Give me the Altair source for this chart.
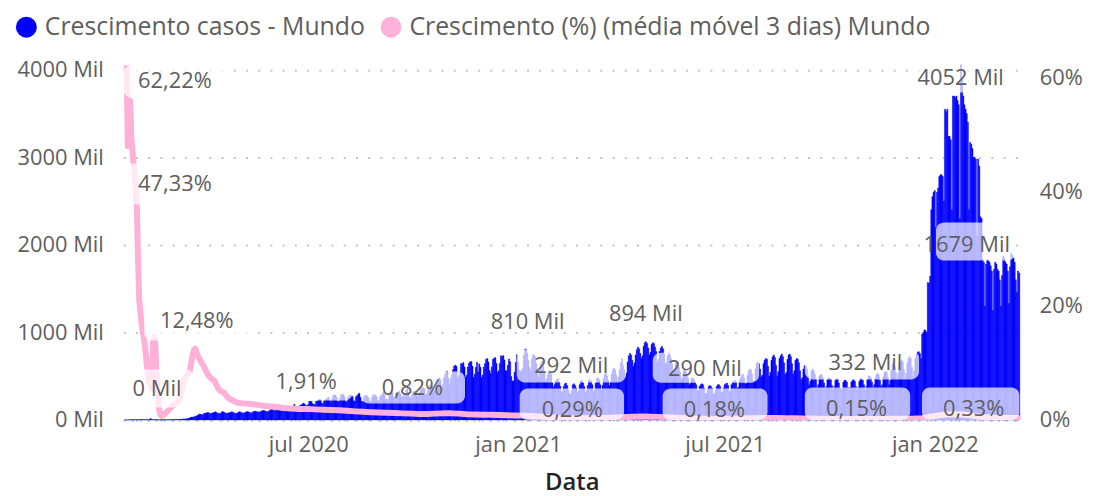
import altair as alt
import pandas as pd

FONTE = "Open Sans"
AZUL = "#0000ff"
ROSA = "#fdb0d8"
CINZA = "#605e5c"

SERIE_CASOS = "Crescimento casos - Mundo"
SERIE_PCT = "Crescimento (%) (média móvel 3 dias) Mundo"

# ---- Crescimento casos (Mil = milhares), valores diários a partir de 22/01/2020 ----
casos_2020_01 = [0.6, 0.1, 0.3, 0.5, 0.7, 0.8, 2.6, 0.6, 2.1, 1.7]
casos_2020_02 = [2.1, 2.6, 2.8, 3.2, 3.7, 3.2, 3.4, 2.6, 3.0, 2.5, 2.0, 0.4, 15.1, 6.4, 2.1,
                 2.1, 2.1, 1.9, 1.9, 0.5, 0.9, 1.1, 1.0, 0.6, 0.9, 0.8, 1.1, 1.6, 2.0]
casos_2020_03 = [1.8, 1.9, 2.3, 2.4, 2.7, 3.7, 4.0, 4.0, 3.9, 4.6, 7.3, 7.3, 10.9, 11.4, 11.0,
                 14.4, 16.5, 20.8, 28.0, 32.4, 33.4, 33.3, 41.3, 41.2, 49.4, 60.7, 64.1, 66.0,
                 58.0, 61.0, 75.0]
casos_2020_04 = [76, 80, 85, 81, 73, 73, 79, 83, 88, 93, 83, 76, 72, 71, 84, 96, 91, 81, 78, 73,
                 80, 83, 85, 93, 88, 84, 70, 76, 79, 87]
casos_2020_05 = [94, 88, 81, 80, 77, 88, 92, 95, 89, 86, 76, 86, 93, 98, 98, 94, 92, 88, 94, 98,
                 107, 108, 104, 96, 95, 93, 106, 116, 125, 118, 107]
casos_2020_06 = [104, 119, 122, 130, 131, 128, 111, 104, 124, 136, 136, 141, 133, 131, 122, 141,
                 142, 178, 141, 154, 132, 140, 167, 170, 182, 192, 181, 166, 163, 174]
casos_2020_07 = [209, 212, 212, 186, 180, 174, 211, 217, 226, 235, 230, 194, 184, 219, 230, 239,
                 251, 260, 225, 209, 238, 282, 281, 285, 262, 211, 217, 248, 293, 285, 294]
casos_2020_08 = [261, 214, 205, 256, 279, 280, 283, 264, 218, 214, 264, 278, 295, 305, 259, 210,
                 210, 265, 278, 283, 270, 252, 208, 216, 259, 286, 283, 286, 266, 214, 227]
casos_2020_09 = [262, 285, 290, 318, 290, 236, 240, 225, 278, 296, 322, 310, 262, 258, 300, 310,
                 320, 326, 298, 262, 270, 305, 295, 335, 358, 312, 262, 250, 288, 322]
casos_2020_10 = [325, 330, 300, 268, 290, 320, 350, 360, 368, 355, 285, 302, 340, 385, 402, 418,
                 378, 318, 350, 402, 445, 462, 482, 458, 372, 402, 478, 518, 548, 556, 480]
casos_2020_11 = [405, 472, 515, 575, 615, 625, 612, 472, 505, 548, 645, 640, 655, 605, 490, 510,
                 605, 650, 665, 668, 615, 488, 522, 600, 658, 548, 640, 602, 488, 512]
casos_2020_12 = [605, 645, 692, 702, 662, 565, 532, 605, 692, 705, 712, 645, 545, 562, 645, 732,
                 725, 735, 685, 565, 560, 625, 695, 665, 495, 445, 445, 545, 655, 745, 665]
casos_2021_01 = [560, 565, 545, 585, 742, 805, 810, 765, 682, 602, 562, 692, 745, 742, 722, 642,
                 532, 482, 582, 642, 672, 612, 532, 435, 472, 522, 562, 535, 520, 425, 372]
casos_2021_02 = [402, 442, 462, 472, 432, 382, 312, 332, 382, 412, 422, 392, 342, 302, 292, 332,
                 402, 412, 392, 362, 312, 332, 402, 442, 452, 422, 382, 312]
casos_2021_03 = [335, 392, 452, 462, 445, 402, 322, 345, 422, 472, 482, 462, 402, 342, 392, 472,
                 522, 532, 502, 452, 392, 432, 522, 572, 592, 572, 512, 442, 492, 572, 652]
casos_2021_04 = [702, 622, 572, 492, 532, 662, 732, 762, 742, 682, 612, 652, 742, 802, 832, 812,
                 762, 702, 732, 842, 882, 894, 872, 822, 742, 772, 862, 882, 872, 832]
casos_2021_05 = [782, 662, 692, 782, 822, 842, 812, 752, 642, 652, 732, 762, 742, 702, 642, 542,
                 562, 642, 652, 642, 602, 542, 462, 482, 562, 562, 552, 522, 472, 402, 422]
casos_2021_06 = [472, 482, 462, 432, 402, 342, 332, 382, 402, 412, 402, 362, 302, 302, 352, 382,
                 392, 382, 362, 305, 290, 332, 382, 402, 402, 382, 322, 312, 362, 402]
casos_2021_07 = [412, 422, 392, 322, 332, 402, 432, 442, 452, 432, 362, 372, 452, 482, 512, 522,
                 482, 412, 422, 512, 562, 582, 572, 522, 442, 452, 582, 642, 662, 642, 582]
casos_2021_08 = [492, 512, 642, 682, 702, 692, 612, 502, 542, 682, 722, 742, 712, 622, 502, 552,
                 702, 732, 752, 722, 652, 522, 542, 692, 742, 752, 722, 642, 522, 562, 682]
casos_2021_09 = [702, 692, 652, 562, 462, 482, 582, 622, 612, 582, 502, 402, 442, 562, 582, 562,
                 522, 462, 372, 402, 502, 522, 512, 482, 422, 352, 382, 462, 482, 472]
casos_2021_10 = [462, 392, 342, 382, 452, 472, 462, 422, 362, 345, 362, 432, 452, 452, 432, 372,
                 345, 372, 432, 452, 462, 442, 382, 342, 372, 442, 472, 472, 452, 402, 332]
casos_2021_11 = [382, 462, 502, 502, 482, 432, 372, 402, 482, 522, 532, 512, 452, 382, 402, 492,
                 542, 552, 542, 482, 402, 452, 572, 642, 652, 612, 542, 462, 532, 642]
casos_2021_12 = [662, 682, 662, 572, 472, 532, 652, 702, 722, 702, 602, 492, 562, 702, 752, 772,
                 780, 760, 700, 980, 1000, 1030, 1020, 1000, 1570, 1560, 1640, 2400, 2550, 2600,
                 2620]
casos_2022_01 = [2200, 2600, 2650, 2780, 2800, 2800, 2780, 2500, 3550, 3520, 3550, 3240, 3240,
                 3200, 2400, 3700, 3700, 3680, 3700, 3650, 3600, 2300, 4052, 3900, 3700, 3600,
                 3550, 3500, 3400, 2400, 3170]
casos_2022_02 = [3150, 3100, 3000, 3000, 2980, 2100, 2980, 2900, 2320, 2300, 1830, 1800, 1300,
                 1780, 1830, 1820, 1800, 1760, 1700, 1250, 1720, 1800, 1780, 1720, 1700, 1600,
                 1300, 1650]
casos_2022_03 = [1870, 1850, 1800, 1780, 1700, 1330, 1750, 1900, 1880, 1850, 1800, 1600, 1460,
                 1700, 1679]

casos = (casos_2020_01 + casos_2020_02 + casos_2020_03 + casos_2020_04 + casos_2020_05 +
         casos_2020_06 + casos_2020_07 + casos_2020_08 + casos_2020_09 + casos_2020_10 +
         casos_2020_11 + casos_2020_12 + casos_2021_01 + casos_2021_02 + casos_2021_03 +
         casos_2021_04 + casos_2021_05 + casos_2021_06 + casos_2021_07 + casos_2021_08 +
         casos_2021_09 + casos_2021_10 + casos_2021_11 + casos_2021_12 + casos_2022_01 +
         casos_2022_02 + casos_2022_03)

# ---- Crescimento (%) média móvel 3 dias ----
pct_diario = [62.22, 48, 52, 56, 50, 47.33, 45, 44,
              40, 37, 28, 21, 19, 17, 15.5, 14.5, 13, 11, 9, 7.5, 6.5, 6, 5.5, 13.5, 14.5, 13.5,
              9, 5, 2.5, 1.2, 0.8, 0.7, 0.8, 1.0, 1.2, 1.4, 1.6,
              1.8, 2.0, 2.2, 2.4, 2.6, 2.8, 2.9, 3.0, 3.1, 3.5, 4.1, 4.9, 5.7, 6.5, 7.2, 7.7, 7.9,
              8.1, 8.4, 9.3, 10.5, 11.6, 12.3, 12.48, 12.0, 11.4, 11.0, 10.6, 10.2, 9.9, 9.6,
              9.2, 8.8, 8.4, 8.0, 7.7, 7.5, 7.3, 7.1, 7.0, 6.8, 6.4, 6.0, 5.6, 5.3, 5.1, 5.0, 4.9,
              4.8, 4.6, 4.3, 4.1, 3.9, 3.7, 3.6, 3.5, 3.4, 3.3, 3.2, 3.1, 3.0]
pct_semanal = [2.9, 2.8, 2.6, 2.4, 2.3, 2.1, 2.0, 1.91, 1.9, 1.85, 1.8, 1.75, 1.7, 1.6, 1.5,
               1.42, 1.35, 1.3, 1.25, 1.2, 1.15, 1.1, 1.05, 1.05, 1.1, 1.15, 1.15, 1.1, 1.0,
               0.95, 0.9, 0.9, 0.85, 0.8, 0.78,
               0.75, 0.7, 0.6, 0.5, 0.42, 0.35, 0.3, 0.29, 0.3, 0.32, 0.36, 0.4, 0.45, 0.5,
               0.55, 0.58, 0.57, 0.53, 0.47, 0.4, 0.33, 0.26, 0.22, 0.19, 0.18, 0.2, 0.22,
               0.25, 0.28, 0.31, 0.33, 0.33, 0.32, 0.31, 0.29, 0.26, 0.23, 0.2, 0.18, 0.17,
               0.16, 0.15, 0.15, 0.16, 0.17, 0.18, 0.19, 0.2, 0.21, 0.23, 0.3, 0.55,
               0.8, 0.95, 1.0, 0.95, 0.8, 0.6, 0.45, 0.38, 0.35, 0.33, 0.33]

# ---- Rótulos de dados ----
rotulo_texto = ["4052 Mil", "1679 Mil", "810 Mil", "894 Mil", "292 Mil", "290 Mil", "332 Mil",
                "0 Mil", "62,22%", "47,33%", "12,48%", "1,91%", "0,82%", "0,29%", "0,18%",
                "0,15%", "0,33%"]
rotulo_data = ["2022-01-23T16:00:00Z", "2022-01-29T00:00:00Z", "2021-01-09T05:00:00Z",
               "2021-04-22T19:00:00Z", "2021-02-16T12:00:00Z", "2021-06-13T14:00:00Z",
               "2021-11-01T05:00:00Z", "2020-02-19T14:00:00Z", "2020-03-06T07:00:00Z",
               "2020-03-06T07:00:00Z", "2020-03-25T10:00:00Z", "2020-06-29T05:00:00Z",
               "2020-09-30T07:00:00Z", "2021-02-17T10:00:00Z", "2021-06-21T22:00:00Z",
               "2021-10-24T10:00:00Z", "2022-02-04T00:00:00Z"]
rotulo_y = [3900, 2003, 1119, 1210, 611, 582, 651, 348, 3876, 2694, 1124, 428, 365, 108, 108,
            120, 120]

# ---- Fundos semitransparentes dos rótulos ----
caixa_ini = ["2021-12-14T17:00:00Z", "2022-01-02T00:00:00Z", "2020-12-30T17:00:00Z",
             "2021-04-28T22:00:00Z", "2021-09-09T02:00:00Z", "2020-01-21T00:00:00Z",
             "2020-01-21T00:00:00Z", "2020-01-21T00:00:00Z", "2020-02-08T07:00:00Z",
             "2020-05-19T05:00:00Z", "2020-08-16T00:00:00Z", "2021-01-02T07:00:00Z",
             "2021-05-07T14:00:00Z", "2021-09-09T02:00:00Z", "2021-12-20T19:00:00Z"]
caixa_fim = ["2022-03-04T19:00:00Z", "2022-03-12T14:00:00Z", "2021-04-05T10:00:00Z",
             "2021-07-31T02:00:00Z", "2021-12-18T05:00:00Z", "2020-03-22T19:00:00Z",
             "2020-04-22T07:00:00Z", "2020-04-22T07:00:00Z", "2020-05-11T10:00:00Z",
             "2020-08-09T02:00:00Z", "2020-11-15T10:00:00Z", "2021-04-03T17:00:00Z",
             "2021-08-07T10:00:00Z", "2021-12-10T10:00:00Z", "2022-03-16T02:00:00Z"]
caixa_base = [3740, 1821, 428, 425, 462, 143, 3681, 2460, 908, 223, 188, 0, 0, 0, 0]
caixa_topo = [4052, 2255, 805, 767, 793, 576, 4052, 2929, 1353, 622, 554, 360, 360, 371, 371]

# ---- Tabelas ----
df_casos = pd.DataFrame({
    "data": pd.date_range("2020-01-22", periods=len(casos), freq="D").strftime("%Y-%m-%d"),
    "casos": casos,
    "serie": SERIE_CASOS,
})
datas_pct = (list(pd.date_range("2020-01-24", periods=len(pct_diario), freq="D").strftime("%Y-%m-%d")) +
             list(pd.date_range("2020-05-05", periods=len(pct_semanal), freq="7D").strftime("%Y-%m-%d")))
df_pct = pd.DataFrame({"data": datas_pct, "pct": pct_diario + pct_semanal})
df_rot = pd.DataFrame({"data": rotulo_data, "y": rotulo_y, "texto": rotulo_texto})
df_cx = pd.DataFrame({"ini": caixa_ini, "fim": caixa_fim, "base": caixa_base, "topo": caixa_topo})

dominio_x = [alt.DateTime(year=2020, month=1, date=21, utc=True),
             alt.DateTime(year=2022, month=3, date=17, utc=True)]
escala_x = alt.Scale(type="utc", domain=dominio_x)
escala_mil = alt.Scale(domain=[0, 4052], nice=False, zero=True)
escala_pct = alt.Scale(domain=[0, 62.22], nice=False, zero=True)

meses = "['jan','fev','mar','abr','mai','jun','jul','ago','set','out','nov','dez']"
eixo_x = alt.Axis(
    values=[alt.DateTime(year=2020, month=7, date=1, utc=True),
            alt.DateTime(year=2021, month=1, date=1, utc=True),
            alt.DateTime(year=2021, month=7, date=1, utc=True),
            alt.DateTime(year=2022, month=1, date=1, utc=True)],
    labelExpr=meses + "[utcmonth(datum.value)] + ' ' + utcyear(datum.value)",
    title="Data", titleFont=FONTE, titleFontSize=24, titleFontWeight=600,
    titleColor="#252423", titlePadding=15,
    labelFont=FONTE, labelFontSize=22, labelColor=CINZA, labelPadding=15,
    ticks=False, tickSize=0, grid=False,
    domain=True, domainColor="#c8c6c4", domainDash=[2, 6], domainWidth=2.5,
)

barras = alt.Chart(df_casos).mark_bar(opacity=1, binSpacing=0, stroke=AZUL,
                                      strokeWidth=0.45).encode(
    x=alt.X("utcyearmonthdate(data):T", scale=escala_x, axis=eixo_x),
    y=alt.Y("casos:Q", scale=escala_mil, axis=alt.Axis(
        values=[0, 1000, 2000, 3000, 4000], labelExpr="datum.value + ' Mil'",
        title=None, grid=True, gridDash=[2, 10.3], gridColor="#c8c6c4", gridWidth=2,
        domain=False, ticks=False, tickSize=0, labelPadding=20,
        labelFont=FONTE, labelFontSize=22, labelColor=CINZA, orient="left")),
    color=alt.Color("serie:N",
                    scale=alt.Scale(domain=[SERIE_CASOS, SERIE_PCT], range=[AZUL, ROSA]),
                    legend=alt.Legend(orient="none", legendX=-110, legendY=-51,
                                      direction="horizontal", title=None,
                                      symbolType="circle", symbolSize=441,
                                      symbolStrokeWidth=0, symbolOpacity=1,
                                      labelFont=FONTE, labelFontSize=25, labelColor=CINZA,
                                      labelLimit=1000, columnPadding=13, labelOffset=6)),
)

linha = alt.Chart(df_pct).mark_line(color=ROSA, strokeWidth=6, clip=True,
                                    strokeJoin="round", strokeCap="round").encode(
    x=alt.X("data:T", scale=escala_x),
    y=alt.Y("pct:Q", scale=escala_pct, axis=alt.Axis(
        values=[0, 20, 40, 60], labelExpr="datum.value + '%'", title=None, grid=False,
        domain=False, ticks=False, tickSize=0, labelPadding=19, orient="right",
        labelFont=FONTE, labelFontSize=22, labelColor=CINZA)),
)

caixas = alt.Chart(df_cx).mark_rect(color="white", opacity=0.7, cornerRadius=8).encode(
    x=alt.X("ini:T", scale=escala_x),
    x2="fim:T",
    y=alt.Y("base:Q", scale=escala_mil, axis=None),
    y2="topo:Q",
)

textos = alt.Chart(df_rot).mark_text(font=FONTE, fontSize=22, color=CINZA,
                                     align="center", baseline="middle").encode(
    x=alt.X("data:T", scale=escala_x),
    y=alt.Y("y:Q", scale=escala_mil, axis=None),
    text="texto:N",
)

chart = alt.layer(barras, linha, caixas, textos).resolve_scale(
    y="independent"
).properties(
    width=903, height=357,
    padding={"left": 116, "top": 56, "right": 66, "bottom": 75},
    autosize=alt.AutoSizeParams(type="none"),
).configure_view(stroke=None)

chart.save("out.html", embed_options={"renderer": "svg", "actions": False})
